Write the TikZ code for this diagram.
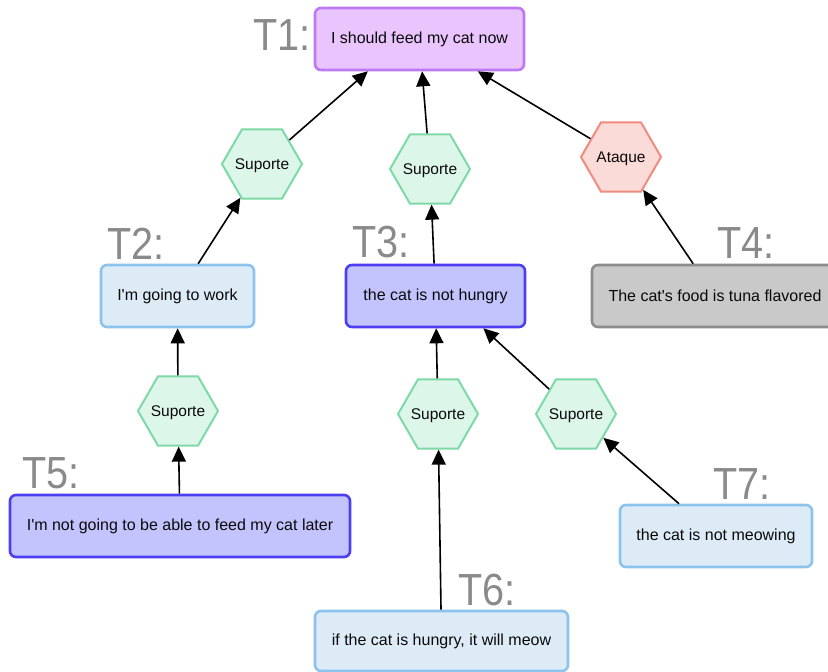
\documentclass[tikz,border=0pt]{standalone}
\usepackage{fontspec}
\setmainfont{Liberation Sans}
\usetikzlibrary{shapes.geometric,arrows.meta}

\definecolor{lilacfill}{HTML}{E9C4FD}
\definecolor{lilacline}{HTML}{BE78F2}
\definecolor{skyfill}{HTML}{DDEBF7}
\definecolor{skyline}{HTML}{8CC3EC}
\definecolor{periwinklefill}{HTML}{C3C3FE}
\definecolor{periwinkleline}{HTML}{4E3EF2}
\definecolor{greyfill}{HTML}{C9C9C9}
\definecolor{greyline}{HTML}{8C8C8C}
\definecolor{mintfill}{HTML}{DDF6EA}
\definecolor{mintline}{HTML}{7DD9A5}
\definecolor{rosefill}{HTML}{FADBD8}
\definecolor{roseline}{HTML}{F08B80}
\definecolor{tagcolor}{HTML}{8A8A8A}
\definecolor{inkcolor}{HTML}{0A0A0A}

\tikzset{
  claim/.style={draw, rectangle, rounded corners=6pt, line width=2.6pt,
    font=\fontsize{16}{19}\selectfont, text=inkcolor, minimum height=62pt, inner sep=0pt},
  lilacbox/.style={claim, fill=lilacfill, draw=lilacline},
  skybox/.style={claim, fill=skyfill, draw=skyline},
  periwinklebox/.style={claim, fill=periwinklefill, draw=periwinkleline},
  greybox/.style={claim, fill=greyfill, draw=greyline},
  relation/.style={draw, regular polygon, regular polygon sides=6, minimum size=80pt,
    inner sep=0pt, line width=2pt, font=\fontsize{15.5}{18}\selectfont, text=inkcolor},
  support/.style={relation, fill=mintfill, draw=mintline},
  attack/.style={relation, fill=rosefill, draw=roseline},
  link/.style={line width=1.6pt, draw=black, -{Triangle[length=15pt,width=14pt]}},
  tag/.style={anchor=base west, inner sep=0pt, text=tagcolor,
    font=\fontsize{45}{45}\selectfont},
}
\newcommand{\tagtext}[1]{\scalebox{0.88}[1]{#1}}
% zero-size label so the hexagon's size is set by minimum size alone
\newcommand{\hexlabel}[1]{\makebox[0pt]{\raisebox{-0.36em}[0pt][0pt]{#1}}}

\begin{document}
\begin{tikzpicture}[x=1pt,y=-1pt]
  \useasboundingbox (0,0) rectangle (828,672);

  % statements
  \node[lilacbox, minimum width=209pt] (t1) at (419.5,39) {I should feed my cat now};
  \node[skybox, minimum width=153pt] (t2) at (177.5,296) {I\textquotesingle m going to work};
  \node[periwinklebox, minimum width=179pt] (t3) at (435.5,296) {the cat is not hungry};
  \node[greybox, minimum width=246pt] (t4) at (715,296) {The cat\textquotesingle s food is tuna flavored};
  \node[periwinklebox, minimum width=340pt] (t5) at (180,526) {I\textquotesingle m not going to be able to feed my cat later};
  \node[skybox, minimum width=253pt, minimum height=60pt] (t6) at (441.5,641) {if the cat is hungry, it will meow};
  \node[skybox, minimum width=192pt] (t7) at (716,536) {the cat is not meowing};

  % relations
  \node[support] (s1) at (262,164) {\hexlabel{Suporte}};
  \node[support] (s2) at (430,169) {\hexlabel{Suporte}};
  \node[attack]  (a1) at (621,157) {\hexlabel{Ataque}};
  \node[support] (s3) at (178,411) {\hexlabel{Suporte}};
  \node[support] (s4) at (438,414) {\hexlabel{Suporte}};
  \node[support] (s5) at (576,414) {\hexlabel{Suporte}};

  % statement labels
  \node[tag] (l1) at (253,50)  {\tagtext{T1:}};
  \node[tag] (l2) at (107,259) {\tagtext{T2:}};
  \node[tag] (l3) at (352,257) {\tagtext{T3:}};
  \node[tag] (l4) at (717,258) {\tagtext{T4:}};
  \node[tag] (l5) at (22,488)  {\tagtext{T5:}};
  \node[tag] (l6) at (458,605) {\tagtext{T6:}};
  \node[tag] (l7) at (713,499) {\tagtext{T7:}};

  % connectors
  \draw[link] (t2) -- (s1);
  \draw[link] (s1) -- (t1.212);
  \draw[link] (t3) -- (s2);
  \draw[link] (s2) -- (t1);
  \draw[link] (t4) -- (a1);
  \draw[link] (a1) -- (t1.331);
  \draw[link] (t5) -- (s3);
  \draw[link] (s3) -- (t2);
  \draw[link] (t6) -- (s4);
  \draw[link] (s4) -- (t3);
  \draw[link] (t7) -- (s5);
  \draw[link] (s5) -- (t3.326);
\end{tikzpicture}
\end{document}
